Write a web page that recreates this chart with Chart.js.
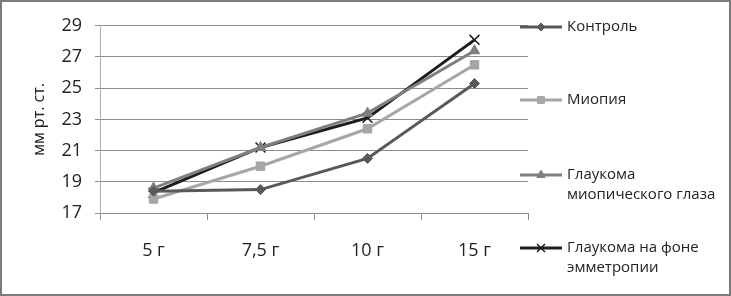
<!DOCTYPE html>
<html>
<head>
<meta charset="utf-8">
<script src="https://cdn.jsdelivr.net/npm/chart.js@4/dist/chart.umd.min.js"></script>
<style>
  html, body { margin: 0; padding: 0; background: #fff; }
  #wrap { width: 731px; height: 296px; box-sizing: border-box; border: 2px solid #7a7a7a; position: relative; }
</style>
</head>
<body>
<div id="wrap"><canvas id="chart"></canvas></div>
<script>
// данные
const categories = ['5 г', '7,5 г', '10 г', '15 г'];
const seriesNames = ['Контроль', 'Миопия', 'Глаукома миопического глаза', 'Глаукома на фоне эмметропии'];
const legendLines = [['Контроль'], ['Миопия'], ['Глаукома', 'миопического глаза'], ['Глаукома на фоне', 'эмметропии']];
const control = [18.4, 18.5, 20.5, 25.3];
const myopia = [17.9, 20.0, 22.4, 26.5];
const glaucomaMyopic = [18.6, 21.2, 23.4, 27.4];
const glaucomaEmmetropia = [18.3, 21.2, 23.1, 28.1];
const yTicks = [17, 19, 21, 23, 25, 27, 29];

const FONT = '"Open Sans", "Noto Sans", sans-serif';

// стили серий
const styles = [
  { color: '#595959', point: 'rectRot', r: 5 },
  { color: '#a6a6a6', point: 'rect', r: 6 },
  { color: '#7f7f7f', point: 'triangle', r: 6 },
  { color: '#1c1c1c', point: 'crossRot', r: 7 },
];
const values = [control, myopia, glaucomaMyopic, glaucomaEmmetropia];

const datasets = values.map((v, i) => ({
  label: seriesNames[i],
  data: v,
  borderColor: styles[i].color,
  backgroundColor: styles[i].color,
  pointBackgroundColor: styles[i].color,
  pointBorderColor: styles[i].color,
  pointStyle: styles[i].point,
  pointRadius: styles[i].r,
  pointBorderWidth: styles[i].point === 'crossRot' ? 1.5 : 1,
  borderWidth: 3,
  tension: 0,
}));

// легенда справа, как в Excel
const sideLegend = {
  id: 'sideLegend',
  afterDraw(chart) {
    const c = chart.ctx;
    const x0 = 518, x1 = 560, tx = 565;
    const ys = [25, 98, 173, 246];
    chart.data.datasets.forEach((ds, i) => {
      const y = ys[i];
      c.save();
      c.strokeStyle = ds.borderColor;
      c.fillStyle = ds.borderColor;
      c.lineWidth = 3;
      c.beginPath(); c.moveTo(x0, y); c.lineTo(x1, y); c.stroke();
      c.lineWidth = ds.pointBorderWidth;
      Chart.helpers.drawPoint(c, {
        pointStyle: ds.pointStyle, radius: ds.pointRadius * 0.8, borderWidth: ds.pointBorderWidth, rotation: 0
      }, (x0 + x1) / 2, y);
      c.fillStyle = '#222';
      c.font = '15px ' + FONT;
      c.textBaseline = 'middle';
      legendLines[i].forEach((t, k) => c.fillText(t, tx, y + k * 20));
      c.restore();
    });
  }
};

const ctx = document.getElementById('chart').getContext('2d');
const chart = new Chart(ctx, {
  type: 'line',
  data: { labels: categories, datasets: datasets },
  options: {
    responsive: true,
    maintainAspectRatio: false,
    animation: false,
    layout: { padding: { left: 28, right: 201, top: 21, bottom: 0 } },
    plugins: {
      legend: { display: false },
      tooltip: { enabled: false },
    },
    scales: {
      x: {
        offset: true,
        grid: { offset: true, drawOnChartArea: false, drawTicks: true, tickLength: 7, color: '#8c8c8c', lineWidth: 1 },
        border: { display: true, color: '#8c8c8c' },
        ticks: { color: '#222', padding: 20, font: { family: FONT, size: 18 } },
        afterFit(s) { s.height = 81; },
      },
      y: {
        min: 17,
        max: 29,
        afterBuildTicks(s) { s.ticks = yTicks.map(v => ({ value: v })); },
        grid: { color: '#8c8c8c', lineWidth: 1, tickLength: 5 },
        border: { display: true, color: '#b0b0b0' },
        ticks: { color: '#222', padding: 13, font: { family: FONT, size: 18 } },
        title: { display: true, text: 'мм рт. ст.', color: '#222', font: { family: FONT, size: 16 }, padding: 0 },
        afterFit(s) { s.width = 70; },
      }
    }
  },
  plugins: [sideLegend],
});
</script>
</body>
</html>
